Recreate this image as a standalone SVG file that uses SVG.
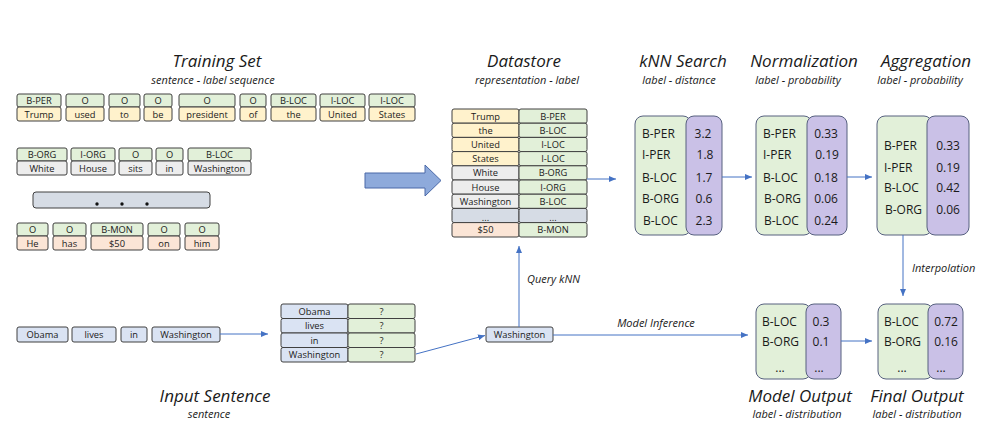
<svg xmlns="http://www.w3.org/2000/svg" width="991" height="436" viewBox="0 0 991 436">
<defs>
<style>
text{font-family:"Open Sans","Noto Sans",sans-serif;fill:#1a1a1a}
.title{font-style:italic;font-size:17px;text-anchor:middle}
.sub{font-style:italic;font-size:11px;text-anchor:middle}
.lbl{font-style:italic;font-size:11px}
.c{font-size:9.3px;text-anchor:middle}
.b{font-size:12px}
.m{text-anchor:middle}
.cell{stroke:#404040;stroke-width:1}
.g{fill:#e2f0d9}.y{fill:#fff2cc}.gr{fill:#ededed}.p{fill:#fbe5d6}.bl{fill:#dae3f3}.sl{fill:#d6dce5}
.gb{fill:#e2f0d9;stroke:#56607f;stroke-width:1}
.pb{fill:#cac1e7;stroke:#56607f;stroke-width:1}
.con{stroke:#4472c4;stroke-width:1;fill:none;marker-end:url(#ah)}
</style>
<marker id="ah" markerUnits="userSpaceOnUse" markerWidth="7" markerHeight="6" refX="7" refY="3" orient="auto">
<path d="M0,0 L7,3 L0,6 z" fill="#4472c4"/>
</marker>
</defs>
<rect width="991" height="436" fill="#ffffff"/>

<g id="training-set">
<text class="title" x="217" y="67">Training Set</text>
<text class="sub" x="213" y="84">sentence - label sequence</text>
<g id="row1">
<rect class="cell g" x="17" y="94" width="44" height="13" rx="2"/><rect class="cell y" x="17" y="107" width="44" height="14" rx="2"/>
<text class="c" x="39" y="104">B-PER</text><text class="c" x="39" y="117.5">Trump</text>
<rect class="cell g" x="66" y="94" width="38" height="13" rx="2"/><rect class="cell y" x="66" y="107" width="38" height="14" rx="2"/>
<text class="c" x="85" y="104">O</text><text class="c" x="85" y="117.5">used</text>
<rect class="cell g" x="109" y="94" width="31" height="13" rx="2"/><rect class="cell y" x="109" y="107" width="31" height="14" rx="2"/>
<text class="c" x="124.5" y="104">O</text><text class="c" x="124.5" y="117.5">to</text>
<rect class="cell g" x="144" y="94" width="28" height="13" rx="2"/><rect class="cell y" x="144" y="107" width="28" height="14" rx="2"/>
<text class="c" x="158" y="104">O</text><text class="c" x="158" y="117.5">be</text>
<rect class="cell g" x="179" y="94" width="56" height="13" rx="2"/><rect class="cell y" x="179" y="107" width="56" height="14" rx="2"/>
<text class="c" x="207" y="104">O</text><text class="c" x="207" y="117.5">president</text>
<rect class="cell g" x="240" y="94" width="26" height="13" rx="2"/><rect class="cell y" x="240" y="107" width="26" height="14" rx="2"/>
<text class="c" x="253" y="104">O</text><text class="c" x="253" y="117.5">of</text>
<rect class="cell g" x="271" y="94" width="45" height="13" rx="2"/><rect class="cell y" x="271" y="107" width="45" height="14" rx="2"/>
<text class="c" x="293.5" y="104">B-LOC</text><text class="c" x="293.5" y="117.5">the</text>
<rect class="cell g" x="320" y="94" width="45" height="13" rx="2"/><rect class="cell y" x="320" y="107" width="45" height="14" rx="2"/>
<text class="c" x="342.5" y="104">I-LOC</text><text class="c" x="342.5" y="117.5">United</text>
<rect class="cell g" x="369" y="94" width="46" height="13" rx="2"/><rect class="cell y" x="369" y="107" width="46" height="14" rx="2"/>
<text class="c" x="392" y="104">I-LOC</text><text class="c" x="392" y="117.5">States</text>
</g>
<g id="row2">
<rect class="cell g" x="17" y="148" width="50" height="13" rx="2"/><rect class="cell gr" x="17" y="161" width="50" height="14" rx="2"/>
<text class="c" x="42" y="158">B-ORG</text><text class="c" x="42" y="171.5">White</text>
<rect class="cell g" x="71" y="148" width="44" height="13" rx="2"/><rect class="cell gr" x="71" y="161" width="44" height="14" rx="2"/>
<text class="c" x="93" y="158">I-ORG</text><text class="c" x="93" y="171.5">House</text>
<rect class="cell g" x="119" y="148" width="33" height="13" rx="2"/><rect class="cell gr" x="119" y="161" width="33" height="14" rx="2"/>
<text class="c" x="135.5" y="158">O</text><text class="c" x="135.5" y="171.5">sits</text>
<rect class="cell g" x="156" y="148" width="27" height="13" rx="2"/><rect class="cell gr" x="156" y="161" width="27" height="14" rx="2"/>
<text class="c" x="169.5" y="158">O</text><text class="c" x="169.5" y="171.5">in</text>
<rect class="cell g" x="188" y="148" width="63" height="13" rx="2"/><rect class="cell gr" x="188" y="161" width="63" height="14" rx="2"/>
<text class="c" x="219.5" y="158">B-LOC</text><text class="c" x="219.5" y="171.5">Washington</text>
</g>
<g id="ellipsis-bar">
<rect class="cell sl" x="33" y="192" width="177" height="16" rx="3"/>
<circle cx="97" cy="204" r="1.7" fill="#111"/><circle cx="122" cy="204" r="1.7" fill="#111"/><circle cx="147" cy="204" r="1.7" fill="#111"/>
</g>
<g id="row3">
<rect class="cell g" x="17" y="223" width="31" height="13" rx="2"/><rect class="cell p" x="17" y="236" width="31" height="14" rx="2"/>
<text class="c" x="32.5" y="233">O</text><text class="c" x="32.5" y="246.5">He</text>
<rect class="cell g" x="53" y="223" width="33" height="13" rx="2"/><rect class="cell p" x="53" y="236" width="33" height="14" rx="2"/>
<text class="c" x="69.5" y="233">O</text><text class="c" x="69.5" y="246.5">has</text>
<rect class="cell g" x="91" y="223" width="52" height="13" rx="2"/><rect class="cell p" x="91" y="236" width="52" height="14" rx="2"/>
<text class="c" x="117" y="233">B-MON</text><text class="c" x="117" y="246.5">$50</text>
<rect class="cell g" x="148" y="223" width="32" height="13" rx="2"/><rect class="cell p" x="148" y="236" width="32" height="14" rx="2"/>
<text class="c" x="164" y="233">O</text><text class="c" x="164" y="246.5">on</text>
<rect class="cell g" x="185" y="223" width="34" height="13" rx="2"/><rect class="cell p" x="185" y="236" width="34" height="14" rx="2"/>
<text class="c" x="202" y="233">O</text><text class="c" x="202" y="246.5">him</text>
</g>
</g>

<g id="big-arrow">
<path d="M365,173 L425,173 L425,165 L441,180.5 L425,196 L425,188 L365,188 z" fill="#8eaadb" stroke="#4a69a8" stroke-width="1"/>
</g>

<g id="datastore">
<text class="title" x="524" y="67">Datastore</text>
<text class="sub" x="527" y="84">representation - label</text>
<rect class="cell y" x="452" y="109" width="67" height="14.2" rx="2"/><rect class="cell g" x="519" y="109" width="68" height="14.2" rx="2"/>
<text class="c" x="485.5" y="119.5">Trump</text><text class="c" x="553" y="119.5">B-PER</text>
<rect class="cell y" x="452" y="123.2" width="67" height="14.2" rx="2"/><rect class="cell g" x="519" y="123.2" width="68" height="14.2" rx="2"/>
<text class="c" x="485.5" y="133.7">the</text><text class="c" x="553" y="133.7">B-LOC</text>
<rect class="cell y" x="452" y="137.4" width="67" height="14.2" rx="2"/><rect class="cell g" x="519" y="137.4" width="68" height="14.2" rx="2"/>
<text class="c" x="485.5" y="147.9">United</text><text class="c" x="553" y="147.9">I-LOC</text>
<rect class="cell y" x="452" y="151.6" width="67" height="14.2" rx="2"/><rect class="cell g" x="519" y="151.6" width="68" height="14.2" rx="2"/>
<text class="c" x="485.5" y="162.1">States</text><text class="c" x="553" y="162.1">I-LOC</text>
<rect class="cell gr" x="452" y="165.8" width="67" height="14.2" rx="2"/><rect class="cell g" x="519" y="165.8" width="68" height="14.2" rx="2"/>
<text class="c" x="485.5" y="176.3">White</text><text class="c" x="553" y="176.3">B-ORG</text>
<rect class="cell gr" x="452" y="180" width="67" height="14.2" rx="2"/><rect class="cell g" x="519" y="180" width="68" height="14.2" rx="2"/>
<text class="c" x="485.5" y="190.5">House</text><text class="c" x="553" y="190.5">I-ORG</text>
<rect class="cell gr" x="452" y="194.2" width="67" height="14.2" rx="2"/><rect class="cell g" x="519" y="194.2" width="68" height="14.2" rx="2"/>
<text class="c" x="485.5" y="204.7">Washington</text><text class="c" x="553" y="204.7">B-LOC</text>
<rect class="cell sl" x="452" y="208.4" width="67" height="14.2" rx="2"/><rect class="cell sl" x="519" y="208.4" width="68" height="14.2" rx="2"/>
<text class="c" x="485.5" y="221">...</text><text class="c" x="553" y="221">...</text>
<rect class="cell p" x="452" y="222.6" width="67" height="14.4" rx="2"/><rect class="cell g" x="519" y="222.6" width="68" height="14.4" rx="2"/>
<text class="c" x="485.5" y="233.2">$50</text><text class="c" x="553" y="233.2">B-MON</text>
</g>

<g id="knn-search">
<text class="title" x="683" y="67">kNN Search</text>
<text class="sub" x="679" y="84">label - distance</text>
<rect class="gb" x="635" y="116" width="56" height="119" rx="8"/>
<rect class="pb" x="686" y="116" width="36" height="119" rx="8"/>
<text class="b" x="642" y="138">B-PER</text><text class="b m" x="703" y="138">3.2</text>
<text class="b" x="642" y="159">I-PER</text><text class="b m" x="705" y="159">1.8</text>
<text class="b" x="642" y="182">B-LOC</text><text class="b m" x="704" y="182">1.7</text>
<text class="b" x="642" y="203">B-ORG</text><text class="b m" x="704" y="203">0.6</text>
<text class="b" x="643" y="225">B-LOC</text><text class="b m" x="704" y="225">2.3</text>
</g>

<g id="normalization">
<text class="title" x="804" y="67">Normalization</text>
<text class="sub" x="798" y="84">label - probability</text>
<rect class="gb" x="756" y="116" width="56" height="119" rx="8"/>
<rect class="pb" x="807" y="116" width="40" height="119" rx="8"/>
<text class="b" x="763" y="138">B-PER</text><text class="b m" x="826" y="138">0.33</text>
<text class="b" x="763" y="159">I-PER</text><text class="b m" x="827" y="159">0.19</text>
<text class="b" x="763" y="182">B-LOC</text><text class="b m" x="826" y="182">0.18</text>
<text class="b" x="764" y="203">B-ORG</text><text class="b m" x="826" y="203">0.06</text>
<text class="b" x="764" y="225">B-LOC</text><text class="b m" x="826" y="225">0.24</text>
</g>

<g id="aggregation">
<text class="title" x="926" y="67">Aggregation</text>
<text class="sub" x="920" y="84">label - probability</text>
<rect class="gb" x="877" y="116" width="55" height="119" rx="8"/>
<rect class="pb" x="927" y="116" width="42" height="119" rx="8"/>
<text class="b" x="884" y="150">B-PER</text><text class="b m" x="948" y="150">0.33</text>
<text class="b" x="884" y="172">I-PER</text><text class="b m" x="948" y="172">0.19</text>
<text class="b" x="884" y="192">B-LOC</text><text class="b m" x="948" y="192">0.42</text>
<text class="b" x="885" y="214">B-ORG</text><text class="b m" x="948" y="214">0.06</text>
</g>

<g id="input-sentence">
<rect class="cell bl" x="17" y="327" width="51" height="15" rx="2"/><text class="c" x="42.5" y="338">Obama</text>
<rect class="cell bl" x="72" y="327" width="44" height="15" rx="2"/><text class="c" x="94" y="338">lives</text>
<rect class="cell bl" x="121" y="327" width="26" height="15" rx="2"/><text class="c" x="134" y="338">in</text>
<rect class="cell bl" x="152" y="327" width="68" height="15" rx="2"/><text class="c" x="186" y="338">Washington</text>
<text class="title" x="215" y="402">Input Sentence</text>
<text class="sub" x="209" y="418">sentence</text>
</g>

<g id="input-table">
<rect class="cell bl" x="281" y="304" width="67" height="14.5" rx="2"/><rect class="cell g" x="348" y="304" width="67" height="14.5" rx="2"/>
<text class="c" x="314.5" y="314.5">Obama</text><text class="c" x="381.5" y="314.5">?</text>
<rect class="cell bl" x="281" y="318.5" width="67" height="14.5" rx="2"/><rect class="cell g" x="348" y="318.5" width="67" height="14.5" rx="2"/>
<text class="c" x="314.5" y="329">lives</text><text class="c" x="381.5" y="329">?</text>
<rect class="cell bl" x="281" y="333" width="67" height="14.5" rx="2"/><rect class="cell g" x="348" y="333" width="67" height="14.5" rx="2"/>
<text class="c" x="314.5" y="343.5">in</text><text class="c" x="381.5" y="343.5">?</text>
<rect class="cell bl" x="281" y="347.5" width="67" height="14.5" rx="2"/><rect class="cell g" x="348" y="347.5" width="67" height="14.5" rx="2"/>
<text class="c" x="314.5" y="358">Washington</text><text class="c" x="381.5" y="358">?</text>
</g>

<g id="query-token">
<rect class="cell bl" x="486" y="327" width="67" height="15" rx="2"/>
<text class="c" x="519.5" y="338">Washington</text>
</g>

<g id="model-output">
<rect class="gb" x="756" y="304" width="55" height="75" rx="8"/>
<rect class="pb" x="806" y="304" width="35" height="75" rx="8"/>
<text class="b" x="762" y="326">B-LOC</text><text class="b m" x="821" y="326">0.3</text>
<text class="b" x="762" y="346">B-ORG</text><text class="b m" x="821" y="346">0.1</text>
<text class="b m" x="780" y="372">...</text><text class="b m" x="819" y="372">...</text>
<text class="title" x="800" y="402">Model Output</text>
<text class="sub" x="797" y="418">label - distribution</text>
</g>

<g id="final-output">
<rect class="gb" x="878" y="304" width="55" height="75" rx="8"/>
<rect class="pb" x="928" y="304" width="35" height="75" rx="8"/>
<text class="b" x="884" y="326">B-LOC</text><text class="b m" x="946" y="326">0.72</text>
<text class="b" x="884" y="346">B-ORG</text><text class="b m" x="946" y="346">0.16</text>
<text class="b m" x="902" y="372">...</text><text class="b m" x="941" y="372">...</text>
<text class="title" x="917" y="402">Final Output</text>
<text class="sub" x="917" y="418">label - distribution</text>
</g>

<g id="connectors">
<line class="con" x1="587" y1="179" x2="616" y2="179"/>
<line class="con" x1="722" y1="177" x2="752" y2="177"/>
<line class="con" x1="847" y1="177" x2="872" y2="177"/>
<line class="con" x1="903" y1="235" x2="903" y2="296"/>
<text class="lbl" x="912" y="272">Interpolation</text>
<line class="con" x1="220" y1="334" x2="268" y2="334"/>
<line class="con" x1="416" y1="354" x2="485" y2="335.5"/>
<line class="con" x1="519" y1="327" x2="519" y2="246"/>
<text class="lbl" x="527" y="283">Query kNN</text>
<line class="con" x1="553" y1="335" x2="748" y2="335"/>
<text class="lbl" x="656" y="327" text-anchor="middle">Model Inference</text>
<line class="con" x1="841" y1="341" x2="872" y2="341"/>
</g>
</svg>
